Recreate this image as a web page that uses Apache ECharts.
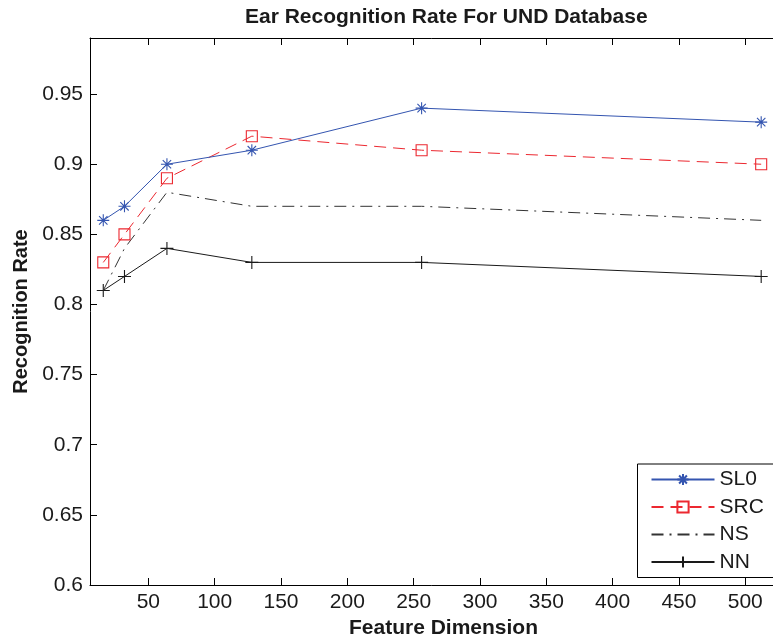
<!DOCTYPE html>
<html>
<head>
<meta charset="utf-8">
<script src="https://cdn.jsdelivr.net/npm/echarts@6/dist/echarts.min.js"></script>
<style>
  html, body { margin: 0; padding: 0; background: #fff; overflow: hidden; }
  #chart { width: 773px; height: 643px; }
</style>
</head>
<body>
<div id="chart"></div>
<script>
// Feature dimensions tested
const dims = [16, 32, 64, 128, 256, 512];

// Recognition rate per method
const sl0 = [0.86, 0.87, 0.90, 0.91, 0.94, 0.93];
const src = [0.83, 0.85, 0.89, 0.92, 0.91, 0.90];
const ns  = [0.81, 0.84, 0.88, 0.87, 0.87, 0.86];
const nn  = [0.81, 0.82, 0.84, 0.83, 0.83, 0.82];

// Tick positions
const xTicks = [50, 100, 150, 200, 250, 300, 350, 400, 450, 500];
const yTicks = [0.6, 0.65, 0.7, 0.75, 0.8, 0.85, 0.9, 0.95];

const FONT = '"Liberation Sans", Arial, Helvetica, sans-serif';
const X_MIN = 6, X_MAX = 539;
const Y_MIN = 0.6, Y_MAX = 0.99;

const pairs = ys => dims.map((d, i) => [d, ys[i]]);

const STAR = 'path://M50,0L50,100M0,50L100,50M15,15L85,85M15,85L85,15';
const PLUS = 'path://M50,0L50,100M0,50L100,50';

const chart = echarts.init(document.getElementById('chart'), null, { renderer: 'canvas' });

const tickCommon = (vals) => ({
  show: true,
  inside: true,
  length: 7,
  customValues: vals,
  lineStyle: { color: '#000', width: 1 }
});

chart.setOption({
  animation: false,
  backgroundColor: '#fff',
  title: {
    text: 'Ear Recognition Rate For UND Database',
    left: 240,
    top: 2,
    textStyle: { fontFamily: FONT, fontSize: 21, fontWeight: 'bold', color: '#1a1a1a' }
  },
  // the axes box runs a little past the right edge of the canvas
  grid: {
    left: 90, top: 38, width: 707, height: 547,
    containLabel: false,
    outerBoundsMode: 'none'
  },
  legend: {
    orient: 'vertical',
    left: 637.5,
    top: 464,
    itemWidth: 63,
    itemHeight: 14,
    itemGap: 6.5,
    itemTextGap: 6,
    padding: [5, 11, 5, 13],
    backgroundColor: '#fff',
    borderColor: '#000',
    borderWidth: 1,
    borderRadius: 0,
    selectedMode: false,
    textStyle: { fontFamily: FONT, fontSize: 21, lineHeight: 20, color: '#1a1a1a' },
    data: ['SL0', 'SRC', 'NS', 'NN']
  },
  xAxis: [
    {
      type: 'value',
      min: X_MIN,
      max: X_MAX,
      name: 'Feature Dimension',
      nameLocation: 'middle',
      nameGap: 33,
      nameTextStyle: { fontFamily: FONT, fontSize: 21, fontWeight: 'bold', color: '#1a1a1a' },
      axisLine: { show: true, lineStyle: { color: '#000', width: 1 } },
      axisTick: tickCommon(xTicks),
      axisLabel: {
        customValues: xTicks,
        margin: 7,
        fontFamily: FONT,
        fontSize: 21,
        color: '#1a1a1a'
      },
      splitLine: { show: false }
    },
    {
      type: 'value',
      position: 'top',
      min: X_MIN,
      max: X_MAX,
      axisLine: { show: true, lineStyle: { color: '#000', width: 1 } },
      axisTick: tickCommon(xTicks),
      axisLabel: { show: false },
      splitLine: { show: false }
    }
  ],
  yAxis: [
    {
      type: 'value',
      min: Y_MIN,
      max: Y_MAX,
      name: 'Recognition Rate',
      nameLocation: 'middle',
      nameGap: 56,
      nameTextStyle: { fontFamily: FONT, fontSize: 20, fontWeight: 'bold', color: '#1a1a1a' },
      axisLine: { show: true, lineStyle: { color: '#000', width: 1 } },
      axisTick: tickCommon(yTicks),
      axisLabel: {
        customValues: yTicks,
        margin: 7,
        fontFamily: FONT,
        fontSize: 21,
        color: '#1a1a1a',
        formatter: v => String(v)
      },
      splitLine: { show: false }
    },
    {
      type: 'value',
      position: 'right',
      min: Y_MIN,
      max: Y_MAX,
      axisLine: { show: true, lineStyle: { color: '#000', width: 1 } },
      axisTick: tickCommon(yTicks),
      axisLabel: { show: false },
      splitLine: { show: false }
    }
  ],
  series: [
    {
      name: 'SL0',
      type: 'line',
      data: pairs(sl0),
      symbol: STAR,
      symbolSize: 12,
      showAllSymbol: true,
      lineStyle: { color: '#3455b0', width: 1, type: 'solid' },
      itemStyle: { color: 'rgba(0,0,0,0)', borderColor: '#3455b0', borderWidth: 1.1 },
      emphasis: { disabled: true },
      z: 5
    },
    {
      name: 'SRC',
      type: 'line',
      data: pairs(src),
      symbol: 'rect',
      symbolSize: 11,
      showAllSymbol: true,
      lineStyle: { color: '#ec2830', width: 1, type: [12, 7] },
      itemStyle: { color: 'rgba(0,0,0,0)', borderColor: '#ec2830', borderWidth: 1.1 },
      emphasis: { disabled: true },
      z: 4
    },
    {
      name: 'NS',
      type: 'line',
      data: pairs(ns),
      symbol: 'circle',
      symbolSize: 1,
      showSymbol: false,
      lineStyle: { color: '#333333', width: 1, type: [12, 6, 2, 6] },
      itemStyle: { color: 'rgba(0,0,0,0)', borderColor: 'rgba(0,0,0,0)', borderWidth: 0 },
      emphasis: { disabled: true },
      z: 3
    },
    {
      name: 'NN',
      type: 'line',
      data: pairs(nn),
      symbol: PLUS,
      symbolSize: 13,
      showAllSymbol: true,
      lineStyle: { color: '#1a1a1a', width: 1, type: 'solid' },
      itemStyle: { color: 'rgba(0,0,0,0)', borderColor: '#1a1a1a', borderWidth: 1.1 },
      emphasis: { disabled: true },
      z: 2
    }
  ]
});
</script>
</body>
</html>
